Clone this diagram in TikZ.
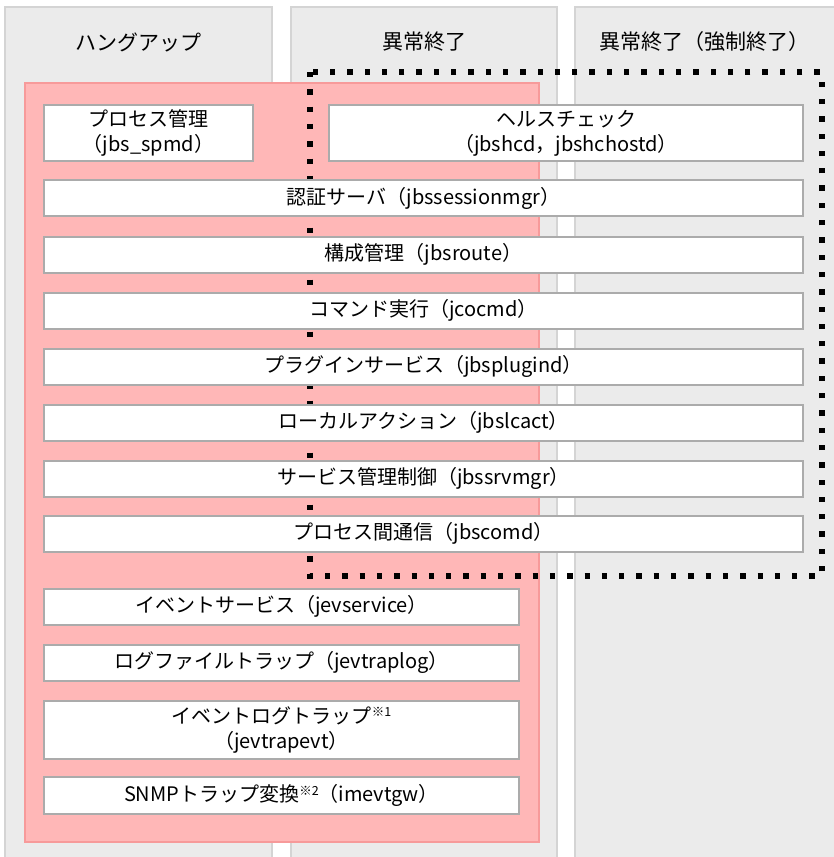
\documentclass[tikz,border=0pt]{standalone}
\usepackage{fontspec}
\setmainfont{Noto Sans CJK JP}
\usepackage{tikz}
\usetikzlibrary{positioning}
\definecolor{laneback}{HTML}{EBEBEB}
\definecolor{laneline}{HTML}{D4D4D4}
\definecolor{hangfill}{HTML}{FFB7B7}
\definecolor{hangline}{HTML}{F79A9A}
\definecolor{boxline}{HTML}{ABABAB}
\tikzset{lane/.style={draw=laneline,fill=laneback,line width=1.5pt}, hangzone/.style={draw=hangline,fill=hangfill,line width=1.2pt}, killzone/.style={draw=black,line width=5.3pt,dash pattern=on 5.3pt off 12pt}, lanehead/.style={font=\fontsize{21}{25}\selectfont,inner sep=0pt}, procbox/.style={draw=boxline,fill=white,line width=2pt,inner sep=0pt,align=center,font=\fontsize{20}{25}\selectfont}, widebox/.style={procbox,minimum width=759pt,minimum height=36pt}, halfbox/.style={procbox,minimum width=475pt,minimum height=36pt}}
\newcommand{\noteref}[1]{{\fontsize{12.5}{12}\selectfont\raisebox{6.5pt}{※#1}}}
\begin{document}
\begin{tikzpicture}[x=1pt,y=-1pt]
\useasboundingbox (0,0) rectangle (833,857);
\draw[lane] (5,870) -- (5,7) -- (272,7) -- (272,870);
\draw[lane] (291,870) -- (291,7) -- (557,7) -- (557,870);
\draw[lane] (575,870) -- (575,7) -- (850,7) -- (850,870);
\node[lanehead] (hanghead) at (138.5,42) {ハングアップ};
\node[lanehead] (crashhead) at (424,42) {異常終了};
\node[lanehead] (killhead) at (704,42) {異常終了（強制終了）};
\draw[hangzone] (25,83) rectangle (539,842);
\draw[killzone] (310,72) rectangle (822,576);
\node[procbox,minimum width=209pt,minimum height=56pt] (spmd) at (148.5,133) {プロセス管理\\（jbs\_spmd）};
\node[procbox,minimum width=474pt,minimum height=56pt] (hcd) at (566,133) {ヘルスチェック\\（jbshcd，jbshchostd）};
\node[widebox] (sessmgr) at (423.5,198) {認証サーバ（jbssessionmgr）};
\node[widebox] (route) at (423.5,254.5) {構成管理（jbsroute）};
\node[widebox] (cocmd) at (423.5,310.5) {コマンド実行（jcocmd）};
\node[widebox] (plugind) at (423.5,366.5) {プラグインサービス（jbsplugind）};
\node[widebox] (lcact) at (423.5,422.5) {ローカルアクション（jbslcact）};
\node[widebox] (srvmgr) at (423.5,478.5) {サービス管理制御（jbssrvmgr）};
\node[widebox] (scomd) at (423.5,533.5) {プロセス間通信（jbscomd）};
\node[halfbox] (evservice) at (281.5,606.5) {イベントサービス（jevservice）};
\node[halfbox] (traplog) at (281.5,662.5) {ログファイルトラップ（jevtraplog）};
\node[halfbox,minimum height=58pt] (trapevt) at (281.5,730) {イベントログトラップ\noteref{1}\\（jevtrapevt）};
\node[halfbox,minimum height=37pt] (evtgw) at (281.5,795.5) {SNMPトラップ変換\noteref{2}（imevtgw）};
\end{tikzpicture}
\end{document}
